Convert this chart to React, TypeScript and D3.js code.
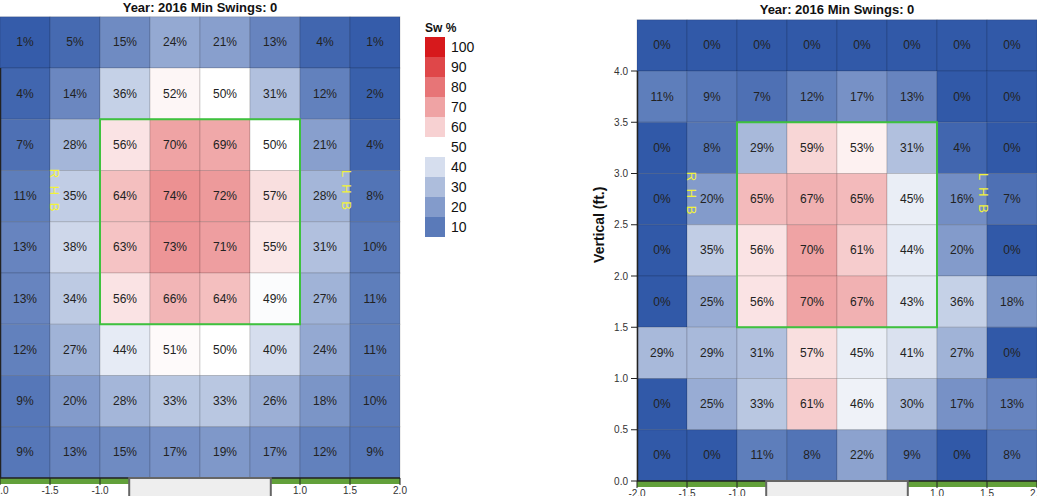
import React from "react";
import * as d3 from "d3";

// Swing % grids, rows from top (4.0–4.5 ft) to bottom (0–0.5 ft), columns from -2.0 to 2.0 ft
const leftGrid: number[][] = [
  [1, 5, 15, 24, 21, 13, 4, 1],
  [4, 14, 36, 52, 50, 31, 12, 2],
  [7, 28, 56, 70, 69, 50, 21, 4],
  [11, 35, 64, 74, 72, 57, 28, 8],
  [13, 38, 63, 73, 71, 55, 31, 10],
  [13, 34, 56, 66, 64, 49, 27, 11],
  [12, 27, 44, 51, 50, 40, 24, 11],
  [9, 20, 28, 33, 33, 26, 18, 10],
  [9, 13, 15, 17, 19, 17, 12, 9],
];
const rightGrid: number[][] = [
  [0, 0, 0, 0, 0, 0, 0, 0],
  [11, 9, 7, 12, 17, 13, 0, 0],
  [0, 8, 29, 59, 53, 31, 4, 0],
  [0, 20, 65, 67, 65, 45, 16, 7],
  [0, 35, 56, 70, 61, 44, 20, 0],
  [0, 25, 56, 70, 67, 43, 36, 18],
  [29, 29, 31, 57, 45, 41, 27, 0],
  [0, 25, 33, 61, 46, 30, 17, 13],
  [0, 0, 11, 8, 22, 9, 0, 8],
];
const colEdges = [-2, -1.5, -1, -0.5, 0, 0.5, 1, 1.5];
const rowTops = [4.5, 4.0, 3.5, 3.0, 2.5, 2.0, 1.5, 1.0, 0.5];
const xTicks = [-2, -1.5, -1, -0.5, 0, 0.5, 1, 1.5, 2];
const yTicks = [0, 0.5, 1, 1.5, 2, 2.5, 3, 3.5, 4];
const legendValues = [100, 90, 80, 70, 60, 50, 40, 30, 20, 10];
const titleText = "Year: 2016 Min Swings: 0";

const FONT = "'Liberation Sans', Arial, Helvetica, sans-serif";

const color = d3
  .scaleLinear<string>()
  .domain([0, 50, 100])
  .range(["#3159a8", "#ffffff", "#d7191c"])
  .interpolate(d3.interpolateRgb)
  .clamp(true);

type ChartProps = { ox: number; yBottom: number; grid: number[][]; showYAxis: boolean; titleY: number };

function Chart({ ox, yBottom, grid, showYAxis, titleY }: ChartProps) {
  const x = d3.scaleLinear().domain([-2, 2]).range([ox, ox + 400]);
  const y = d3.scaleLinear().domain([0, 4]).range([yBottom, yBottom - 410]);
  const cw = x(-1.5) - x(-2);
  const ch = y(0) - y(0.5);
  return (
    <g>
      <text x={x(0)} y={titleY} textAnchor="middle" fontFamily={FONT} fontWeight="bold" fontSize={13} fill="#111">
        {titleText}
      </text>
      {grid.map((row, ri) =>
        row.map((v, ci) => (
          <g key={`${ri}-${ci}`}>
            <rect
              x={x(colEdges[ci])}
              y={y(rowTops[ri])}
              width={cw}
              height={ch}
              fill={color(v)}
              stroke="rgba(0,0,0,0.14)"
              strokeWidth={1}
            />
            <text
              x={x(colEdges[ci]) + cw / 2}
              y={y(rowTops[ri]) + ch / 2}
              textAnchor="middle"
              dominantBaseline="central"
              fontFamily={FONT}
              fontSize={12}
              fill="#222"
            >
              {v}%
            </text>
          </g>
        ))
      )}
      {/* strike zone */}
      <rect
        x={x(-1)}
        y={y(3.5)}
        width={x(1) - x(-1)}
        height={y(1.5) - y(3.5)}
        fill="none"
        stroke="#3ec23e"
        strokeWidth={2}
      />
      {/* batter labels */}
      {[
        { t: "R H B", v: -1.46 },
        { t: "L H B", v: 1.46 },
      ].map((d) => (
        <text
          key={d.t}
          transform={`translate(${x(d.v)},${y(2.8)}) rotate(90)`}
          textAnchor="middle"
          dominantBaseline="central"
          fontFamily={FONT}
          fontSize={13}
          letterSpacing={2}
          fill="#f2f23a"
        >
          {d.t}
        </text>
      ))}
      {/* y axis */}
      <line x1={x(-2) + 0.5} x2={x(-2) + 0.5} y1={y(4)} y2={y(0)} stroke="#222" strokeWidth={1.5} />
      {showYAxis &&
        yTicks.map((t) => (
          <g key={t}>
            <line x1={x(-2) - 6} x2={x(-2)} y1={y(t)} y2={y(t)} stroke="#222" />
            <text
              x={x(-2) - 9}
              y={y(t)}
              textAnchor="end"
              dominantBaseline="central"
              fontFamily={FONT}
              fontSize={10}
              fill="#333"
            >
              {t.toFixed(1)}
            </text>
          </g>
        ))}
      {showYAxis && (
        <text
          transform={`translate(${x(-2) - 33},${y(2.5)}) rotate(-90)`}
          textAnchor="middle"
          fontFamily={FONT}
          fontWeight="bold"
          fontSize={14}
          fill="#111"
        >
          Vertical (ft.)
        </text>
      )}
      {/* x axis with green band */}
      <rect x={x(-2)} y={y(0)} width={x(2) - x(-2)} height={6} fill="#62a03a" />
      <line x1={x(-2)} x2={x(2)} y1={y(0)} y2={y(0)} stroke="#222" strokeWidth={1.5} />
      {xTicks.map((t) => (
        <g key={t}>
          <line x1={x(t)} x2={x(t)} y1={y(0)} y2={y(0) + 7} stroke="#222" />
          <text x={x(t)} y={y(0) + 16} textAnchor="middle" fontFamily={FONT} fontSize={10} fill="#333">
            {t.toFixed(1)}
          </text>
        </g>
      ))}
      {/* home plate */}
      <rect
        x={x(-0.708)}
        y={y(0)}
        width={x(0.708) - x(-0.708)}
        height={30}
        fill="#eeeeee"
        stroke="#666"
        strokeWidth={2}
      />
    </g>
  );
}

function Legend() {
  const lx = 425;
  const top = 37;
  const h = 20;
  return (
    <g>
      <text x={lx} y={32} fontFamily={FONT} fontWeight="bold" fontSize={12} fill="#111">
        Sw %
      </text>
      {legendValues.map((v, i) => (
        <g key={v}>
          <rect x={lx} y={top + i * h} width={20} height={h} fill={color(v)} />
          <text
            x={lx + 26}
            y={top + i * h + h / 2}
            dominantBaseline="central"
            fontFamily={FONT}
            fontSize={14}
            fill="#111"
          >
            {v}
          </text>
        </g>
      ))}
    </g>
  );
}

export default function App() {
  return (
    <div style={{ position: "fixed", left: 0, top: 0, width: 1037, height: 496, background: "#fff" }}>
      <svg width={1037} height={496} style={{ display: "block" }}>
        <Chart ox={0} yBottom={478} grid={leftGrid} showYAxis={false} titleY={12} />
        <Legend />
        <Chart ox={637} yBottom={481} grid={rightGrid} showYAxis={true} titleY={14} />
      </svg>
    </div>
  );
}
